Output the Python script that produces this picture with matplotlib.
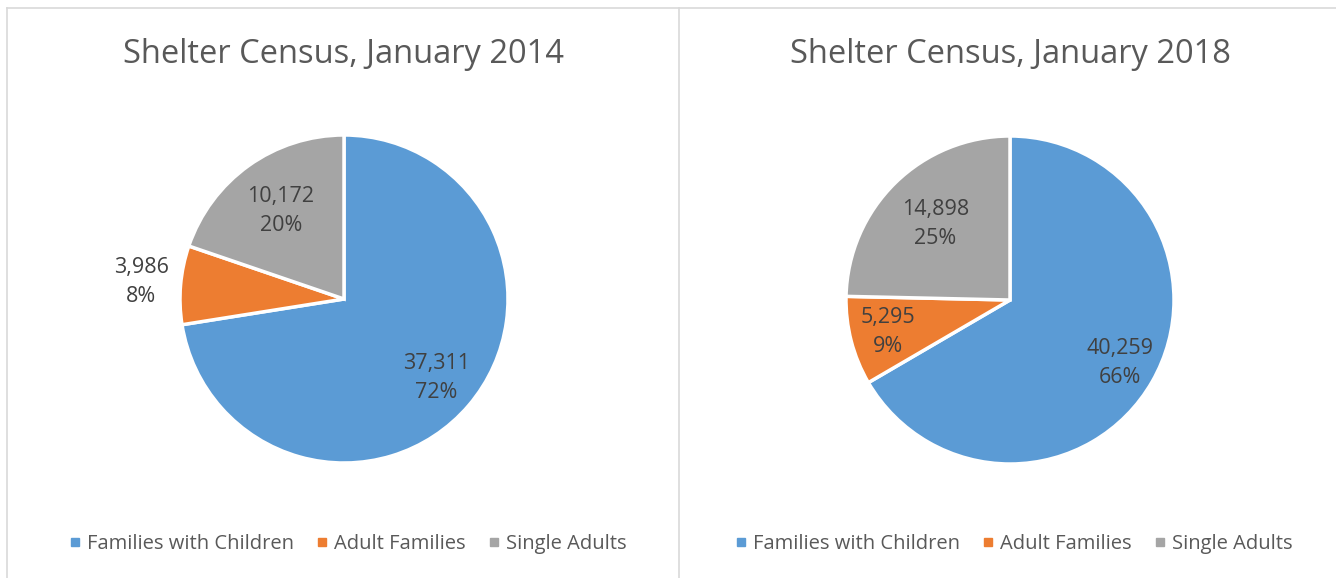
import matplotlib
matplotlib.use("Agg")
import matplotlib.pyplot as plt
from matplotlib.lines import Line2D
import numpy as np

plt.rcParams['font.family'] = ['Open Sans', 'DejaVu Sans']

categories = ["Families with Children", "Adult Families", "Single Adults"]
titles = ["Shelter Census, January 2014", "Shelter Census, January 2018"]
counts_2014 = [37311, 3986, 10172]
counts_2018 = [40259, 5295, 14898]
pct_2014 = [72, 8, 20]
pct_2018 = [66, 9, 25]

colors = ["#5B9BD5", "#ED7D31", "#A5A5A5"]
title_color = "#595959"
label_color = "#404040"
border_color = "#D9D9D9"

W, H = 1336, 578
fig = plt.figure(figsize=(W / 100, H / 100), dpi=100)

# panel borders (pixel positions -> figure fraction)
def fx(px):
    return px / W

def fy(py):
    return 1 - py / H

for xs, ys in [([7, W], [8, 8]), ([7, 7], [8, H]), ([679, 679], [8, H])]:
    fig.add_artist(Line2D([fx(x) for x in xs], [fy(y) for y in ys],
                          color=border_color, lw=1.2, transform=fig.transFigure))

radius_px = 164
panels = [
    dict(cx=344, cy=299, title=titles[0], counts=counts_2014, pct=pct_2014,
         label_r=[0.74, 1.24, 0.66]),
    dict(cx=1010, cy=300, title=titles[1], counts=counts_2018, pct=pct_2018,
         label_r=[0.77, 0.77, 0.65]),
]

for p in panels:
    ax = fig.add_axes([fx(p["cx"] - radius_px), fy(p["cy"] + radius_px),
                       2 * radius_px / W, 2 * radius_px / H])
    wedges, _ = ax.pie(p["counts"], colors=colors, startangle=90, counterclock=False,
                       wedgeprops=dict(edgecolor="white", linewidth=2.5))
    ax.set_xlim(-1, 1)
    ax.set_ylim(-1, 1)
    ax.set_aspect("equal")

    # data labels: value + percent, placed along each slice's mid angle
    for w, v, pc, r in zip(wedges, p["counts"], p["pct"], p["label_r"]):
        ang = np.deg2rad((w.theta1 + w.theta2) / 2)
        ax.text(r * np.cos(ang), r * np.sin(ang), f"{v:,}\n{pc}%",
                ha="center", va="center", fontsize=15.5, color=label_color,
                linespacing=1.5)

    fig.text(fx(p["cx"]), fy(63), p["title"], ha="center", va="baseline",
             fontsize=23.5, color=title_color)

    handles = [Line2D([], [], marker="s", linestyle="", markersize=6, color=c)
               for c in colors]
    fig.legend(handles, categories, loc="center", ncol=3, frameon=False,
               bbox_to_anchor=(fx(p["cx"] + 4), fy(544)), fontsize=14.5,
               labelcolor=title_color, handlelength=0.6, handletextpad=0.3,
               columnspacing=1.1)

fig.savefig("out.png", dpi=100, facecolor="white")
